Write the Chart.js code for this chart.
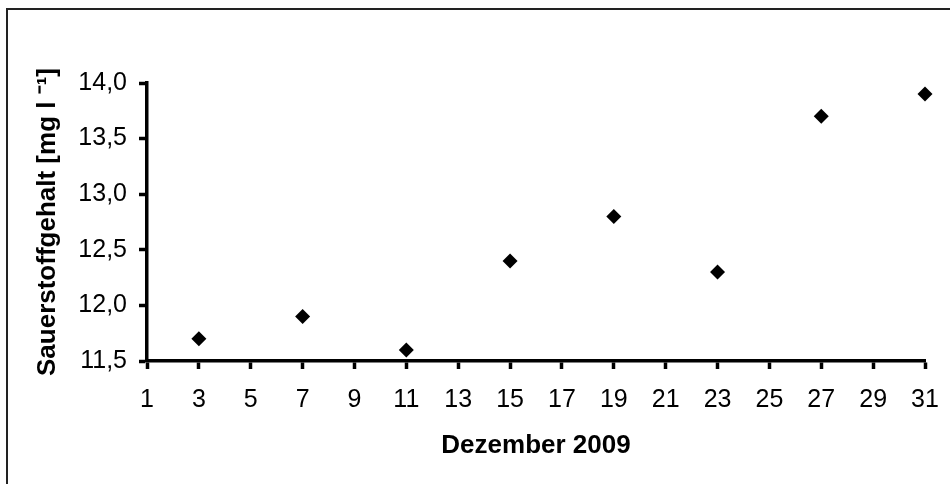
<!DOCTYPE html>
<html>
<head>
<meta charset="utf-8">
<script src="https://cdn.jsdelivr.net/npm/chart.js@4.4.0/dist/chart.umd.min.js"></script>
<style>
  body { margin: 0; background: #fff; }
  canvas { display: block; }
</style>
</head>
<body>
<canvas id="myChart" width="950" height="484"></canvas>
<script>
// data
const days = [3, 7, 11, 15, 19, 23, 27, 31];
const oxygen = [11.7, 11.9, 11.6, 12.4, 12.8, 12.3, 13.7, 13.9];
const xTicks = [1, 31, 2];      // min, max, step
const yTicks = [11.5, 14.0, 0.5];
const xTitle = "Dezember 2009";
const yTitle = "Sauerstoffgehalt [mg l \u207B\u00B9]";

const points = days.map(function (d, i) {
  return { x: d, y: oxygen[i] };
});

// frame line on top and left, like the original picture
const frame = {
  id: "frame",
  beforeDraw(chart) {
    const c = chart.ctx;
    c.save();
    c.fillStyle = "#fff";
    c.fillRect(0, 0, chart.width, chart.height);
    c.strokeStyle = "#222";
    c.lineWidth = 2;
    c.beginPath();
    c.moveTo(7, chart.height);
    c.lineTo(7, 9);
    c.lineTo(chart.width, 9);
    c.stroke();
    c.restore();
  },
};

const font = { family: "'Liberation Sans', Arial, sans-serif", size: 25 };
const bold = { family: "'Liberation Sans', Arial, sans-serif", size: 26, weight: "bold" };

const ctx = document.getElementById("myChart");
new Chart(ctx, {
  type: "scatter",
  data: {
    datasets: [
      {
        data: points,
        pointStyle: "rectRot",
        pointRadius: 7.5,
        backgroundColor: "#000",
        borderColor: "#000",
        borderWidth: 0,
        clip: false,
      },
    ],
  },
  options: {
    responsive: false,
    animation: false,
    layout: { padding: { top: 83, right: 25, left: 0, bottom: 0 } },
    plugins: { legend: { display: false }, tooltip: { enabled: false } },
    scales: {
      x: {
        type: "linear",
        min: xTicks[0],
        max: xTicks[1],
        afterFit(scale) {
          scale.height = 123;
          scale.paddingLeft = 0;
          scale.paddingRight = 0;
        },
        ticks: { stepSize: xTicks[2], color: "#000", font: font, padding: 16, maxRotation: 0, autoSkip: false },
        grid: { drawOnChartArea: false, tickLength: 8, tickWidth: 3.5, tickColor: "#000" },
        border: { color: "#000", width: 3.5 },
        title: { display: true, text: xTitle, color: "#000", font: bold, padding: { top: 23, bottom: 23 } },
      },
      y: {
        min: yTicks[0],
        max: yTicks[1],
        afterFit(scale) {
          scale.width = 147;
          scale.paddingTop = 0;
          scale.paddingBottom = 0;
        },
        ticks: {
          stepSize: yTicks[2],
          color: "#000",
          font: font,
          padding: 12,
          callback: function (v) { return v.toFixed(1).replace(".", ","); },
        },
        grid: { drawOnChartArea: false, tickLength: 8, tickWidth: 3.5, tickColor: "#000" },
        border: { color: "#000", width: 3.5 },
        title: { display: true, text: yTitle, color: "#000", font: bold, padding: { top: 32, bottom: 32 } },
      },
    },
  },
  plugins: [frame],
});
</script>
</body>
</html>
